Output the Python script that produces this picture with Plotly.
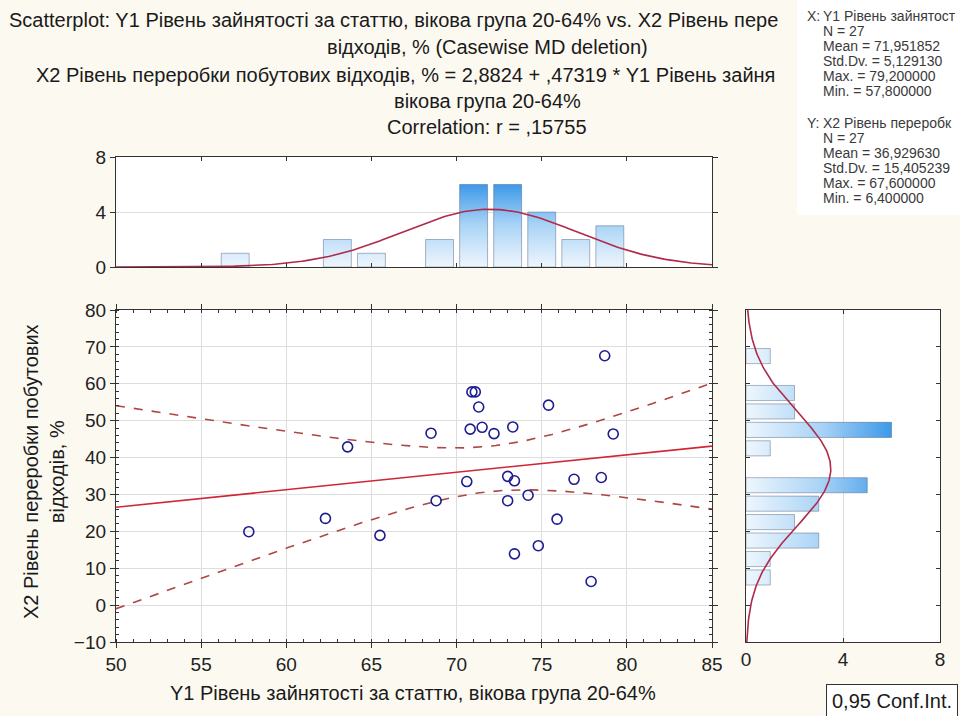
import numpy as np
import plotly.graph_objects as go

# ---------------- data ----------------
x_vals = [57.8, 62.3, 63.6, 65.5, 68.5, 68.8, 70.6, 70.8, 70.9, 71.1, 71.3, 71.5, 72.2, 73.0,
          73.0, 73.3, 73.4, 73.4, 74.2, 74.8, 75.4, 75.9, 76.9, 77.9, 78.5, 78.7, 79.2]
y_vals = [19.9, 23.5, 42.9, 18.9, 46.6, 28.3, 33.5, 47.7, 57.8, 57.8, 53.7, 48.2, 46.5, 34.9,
          28.3, 48.3, 33.7, 13.9, 29.8, 16.1, 54.2, 23.3, 34.1, 6.4, 34.6, 67.6, 46.4]

histx_centers = [57, 63, 65, 69, 71, 73, 75, 77, 79]
histx_counts = [1, 2, 1, 2, 6, 6, 4, 2, 3]
histx_width = 2

histy_centers = [7.5, 12.5, 17.5, 22.5, 27.5, 32.5, 42.5, 47.5, 52.5, 57.5, 67.5]
histy_counts = [1, 1, 3, 2, 3, 5, 1, 6, 2, 2, 1]
histy_width = 5

n_obs = 27
x_mean, x_std = 71.951852, 5.129130
y_mean, y_std = 36.929630, 15.405239
intercept, slope = 2.8824, 0.47319
r_corr = 0.15755
t_crit = 2.0595  # t(0.975, 25)

x_ticks = [50, 55, 60, 65, 70, 75, 80, 85]
y_ticks = [-10, 0, 10, 20, 30, 40, 50, 60, 70, 80]
hist_ticks = [0, 4, 8]

# title lines as visible in the reference (right part hidden behind the statistics box)
title_lines = [
    "Scatterplot: Y1 Рівень зайнятості за статтю, вікова група 20-64% vs. X2 Рівень пере",
    "відходів, % (Casewise MD deletion)",
    "X2 Рівень переробки побутових відходів, % = 2,8824 + ,47319 * Y1 Рівень зайня",
    "вікова група 20-64%",
    "Correlation: r = ,15755",
]
stats_x = ["Y1 Рівень зайнятост", "N = 27", "Mean = 71,951852", "Std.Dv. = 5,129130",
           "Max. = 79,200000", "Min. = 57,800000"]
stats_y = ["X2 Рівень переробк", "N = 27", "Mean = 36,929630", "Std.Dv. = 15,405239",
           "Max. = 67,600000", "Min. = 6,400000"]
x_title = "Y1 Рівень зайнятості за статтю, вікова група 20-64%"
y_title = "X2 Рівень переробки побутових<br>відходів, %"
legend_text = "0,95 Conf.Int."

# ---------------- helpers ----------------
W, H = 960, 716
FONT = "Liberation Sans, Arial, sans-serif"


def px_x(p):
    return p / W


def px_y(p):
    return 1 - p / H


def bar_polys(centers, counts, width, frac=0.82):
    a, b = [], []
    for c, k in zip(centers, counts):
        lo, hi = c - width * frac / 2, c + width * frac / 2
        a += [lo, lo, hi, hi, lo, None]
        b += [0, k, k, 0, 0, None]
    return a, b


grad_scale = [[0, "#eef6fd"], [0.5, "#a9d3f6"], [1, "#3595e8"]]

fig = go.Figure()

# top histogram (X)
hx_a, hx_b = bar_polys(histx_centers, histx_counts, histx_width)
fig.add_trace(go.Scatter(
    x=hx_a, y=hx_b, xaxis="x2", yaxis="y2", mode="lines", fill="toself",
    line=dict(color="rgba(70,90,120,0.55)", width=0.8),
    fillgradient=dict(type="vertical", start=0, stop=6.2, colorscale=grad_scale),
    hoverinfo="skip", showlegend=False))
gx = np.linspace(50, 85, 200)
gy = n_obs * histx_width * np.exp(-0.5 * ((gx - x_mean) / x_std) ** 2) / (x_std * np.sqrt(2 * np.pi))
fig.add_trace(go.Scatter(x=gx, y=gy, xaxis="x2", yaxis="y2", mode="lines",
                         line=dict(color="#b02a4a", width=1.6), showlegend=False))

# right histogram (Y)
hy_a, hy_b = bar_polys(histy_centers, histy_counts, histy_width)
fig.add_trace(go.Scatter(
    x=hy_b, y=hy_a, xaxis="x3", yaxis="y3", mode="lines", fill="toself",
    line=dict(color="rgba(70,90,120,0.55)", width=0.8),
    fillgradient=dict(type="horizontal", start=0, stop=6.2, colorscale=grad_scale),
    hoverinfo="skip", showlegend=False))
gyy = np.linspace(-10, 80, 200)
gxx = n_obs * histy_width * np.exp(-0.5 * ((gyy - y_mean) / y_std) ** 2) / (y_std * np.sqrt(2 * np.pi))
fig.add_trace(go.Scatter(x=gxx, y=gyy, xaxis="x3", yaxis="y3", mode="lines",
                         line=dict(color="#b02a4a", width=1.6), showlegend=False))

# regression line and confidence band
lx = np.linspace(50, 85, 150)
ly = intercept + slope * lx
s_e = y_std * np.sqrt((1 - r_corr ** 2) * (n_obs - 1) / (n_obs - 2))
se_fit = s_e * np.sqrt(1 / n_obs + (lx - x_mean) ** 2 / ((n_obs - 1) * x_std ** 2))
fig.add_trace(go.Scatter(x=lx, y=ly + t_crit * se_fit, mode="lines",
                         line=dict(color="#b04545", width=1.6, dash="dash"), showlegend=False))
fig.add_trace(go.Scatter(x=lx, y=ly - t_crit * se_fit, mode="lines",
                         line=dict(color="#b04545", width=1.6, dash="dash"), showlegend=False))
fig.add_trace(go.Scatter(x=lx, y=ly, mode="lines",
                         line=dict(color="#d02535", width=1.6), showlegend=False))

# scatter points
fig.add_trace(go.Scatter(x=x_vals, y=y_vals, mode="markers",
                         marker=dict(symbol="circle-open", size=10, color="#1c1c90",
                                     line=dict(width=1.6, color="#1c1c90")),
                         showlegend=False))

axis_common = dict(linecolor="#333333", linewidth=1.3, mirror="ticks", showline=True,
                   tickcolor="#333333", tickfont=dict(family=FONT, size=19, color="#222222"),
                   zeroline=False, automargin=False)

fig.update_layout(
    width=W, height=H, margin=dict(l=0, r=0, t=0, b=0, autoexpand=False),
    paper_bgcolor="#fcf9f1", plot_bgcolor="#ffffff",
    font=dict(family=FONT, color="#222222"),
    xaxis=dict(domain=[px_x(116), px_x(712)], range=[50, 85], tickvals=x_ticks,
               showgrid=True, gridcolor="#dedede", gridwidth=1, ticks="outside", ticklen=5,
               minor=dict(dtick=1, ticks="inside", ticklen=3, tickcolor="#333333", showgrid=False),
               anchor="y", **axis_common),
    yaxis=dict(domain=[px_y(642), px_y(310)], range=[-10, 80], tickvals=y_ticks,
               showgrid=True, gridcolor="#dedede", gridwidth=1, ticks="outside", ticklen=5,
               minor=dict(dtick=2, ticks="inside", ticklen=3, tickcolor="#333333", showgrid=False),
               anchor="x", **axis_common),
    xaxis2=dict(domain=[px_x(116), px_x(712)], range=[50, 85], tickvals=x_ticks,
                showticklabels=False, showgrid=False, ticks="inside", ticklen=4,
                anchor="y2", **axis_common),
    yaxis2=dict(domain=[px_y(267), px_y(157)], range=[0, 8], tickvals=hist_ticks,
                showgrid=True, gridcolor="#dedede", ticks="outside", ticklen=5,
                anchor="x2", **axis_common),
    xaxis3=dict(domain=[px_x(746), px_x(940)], range=[0, 8], tickvals=hist_ticks,
                showgrid=True, gridcolor="#dedede", ticks="inside", ticklen=4,
                anchor="y3", **axis_common),
    yaxis3=dict(domain=[px_y(642), px_y(310)], range=[-10, 80], tickvals=y_ticks,
                showticklabels=False, showgrid=False, ticks="inside", ticklen=4,
                anchor="x3", **axis_common),
    shapes=[dict(type="rect", xref="paper", yref="paper", x0=px_x(797), x1=1,
                 y0=px_y(215), y1=1, fillcolor="#ffffff", line=dict(width=0), layer="below")],
)

ann = []
tfont = dict(family=FONT, size=20, color="#1a1a1a")
# title lines
ann.append(dict(text=title_lines[0], x=px_x(8), y=px_y(20), xanchor="left", yanchor="middle"))
ann.append(dict(text=title_lines[1], x=px_x(487), y=px_y(47), xanchor="center", yanchor="middle"))
ann.append(dict(text=title_lines[2], x=px_x(35), y=px_y(75), xanchor="left", yanchor="middle"))
ann.append(dict(text=title_lines[3], x=px_x(487), y=px_y(101), xanchor="center", yanchor="middle"))
ann.append(dict(text=title_lines[4], x=px_x(487), y=px_y(127), xanchor="center", yanchor="middle"))
for a in ann:
    a.update(xref="paper", yref="paper", showarrow=False, font=tfont, borderpad=0)

sfont = dict(family=FONT, size=14, color="#3a3a3a")
ann.append(dict(text="X:", x=px_x(806), y=px_y(16), xanchor="left", yanchor="middle",
                xref="paper", yref="paper", showarrow=False, font=sfont, borderpad=0))
ann.append(dict(text="Y:", x=px_x(806), y=px_y(123), xanchor="left", yanchor="middle",
                xref="paper", yref="paper", showarrow=False, font=sfont, borderpad=0))
for i, s in enumerate(stats_x):
    ann.append(dict(text=s, x=px_x(822), y=px_y(16 + 15 * i), xanchor="left", yanchor="middle",
                    xref="paper", yref="paper", showarrow=False, font=sfont, borderpad=0))
for i, s in enumerate(stats_y):
    ann.append(dict(text=s, x=px_x(822), y=px_y(123 + 15 * i), xanchor="left", yanchor="middle",
                    xref="paper", yref="paper", showarrow=False, font=sfont, borderpad=0))

# axis titles
ann.append(dict(text=x_title, x=px_x(413), y=px_y(693), xanchor="center", yanchor="middle",
                xref="paper", yref="paper", showarrow=False, font=tfont))
ann.append(dict(text=y_title, x=px_x(44), y=px_y(472), xanchor="center", yanchor="middle",
                textangle=-90, xref="paper", yref="paper", showarrow=False, font=tfont))
# legend box
ann.append(dict(text=legend_text, x=px_x(826), y=px_y(684), xanchor="left", yanchor="top",
                bordercolor="#333333", borderwidth=1, borderpad=5, bgcolor="#ffffff",
                xref="paper", yref="paper", showarrow=False, font=tfont))

fig.update_layout(annotations=ann)
fig.write_html("out.html", config={"displayModeBar": False},
               post_script="document.body.style.margin='0';document.body.style.padding='0';")
